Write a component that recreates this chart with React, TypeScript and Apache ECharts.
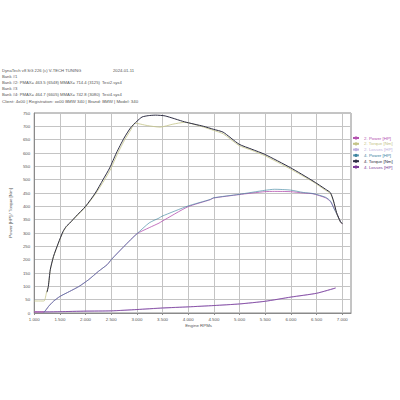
import React, { useEffect, useRef } from "react";
import * as echarts from "echarts";

// ---- data ----
const seriesNames = [
  "2. Power [HP]",
  "2. Torque [Nm]",
  "2. Losses [HP]",
  "4. Power [HP]",
  "4. Torque [Nm]",
  "4. Losses [HP]",
];
const seriesColors = ["#b452b0", "#c4c488", "#c0b0e0", "#3d849f", "#2e2e44", "#7a3a98"];

const t4Rpm = [1250, 1275, 1312, 1375, 1469, 1562, 1625, 1690, 1810, 2000, 2190, 2340, 2470, 2600, 2750, 2875, 3000, 3100, 3220, 3360, 3550, 3925, 4300, 4490, 4680, 4990, 5240, 5490, 5990, 6430, 6675, 6770, 6830, 6890, 6960, 7000];
const t4Val = [78, 100, 162, 212, 262, 306, 325, 337, 362, 400, 450, 500, 544, 600, 656, 694, 719, 735, 740, 742, 739, 717, 700, 689, 678, 633, 614, 595, 545, 495, 464, 451, 420, 376, 344, 335];

const t2Rpm = [1000, 1190, 1240, 1275, 1312, 1375, 1469, 1562, 1625, 1690, 1810, 2000, 2190, 2360, 2490, 2620, 2770, 2890, 2960, 3200, 3450, 3700, 3925, 4300, 4490, 4680, 4990, 5240, 5490, 5990, 6430, 6675, 6770, 6830, 6890, 6960, 7000];
const t2Val = [45, 45, 78, 100, 160, 210, 260, 304, 323, 336, 360, 398, 446, 496, 540, 596, 652, 690, 712, 703, 697, 708, 715, 697, 685, 672, 628, 610, 590, 540, 492, 460, 448, 418, 374, 343, 334];

const p4Rpm = [1190, 1280, 1375, 1500, 1690, 1875, 2060, 2250, 2425, 2500, 2750, 3000, 3240, 3430, 3490, 3990, 4430, 4490, 4990, 5490, 5680, 5990, 6240, 6430, 6675, 6770, 6830, 6890, 6960, 7000];
const p4Val = [2, 25, 44, 62, 81, 100, 125, 156, 182, 200, 250, 297, 338, 356, 363, 401, 426, 432, 445, 460, 464, 461, 452, 448, 434, 420, 395, 372, 344, 335];

const p2Rpm = [1000, 1190, 1280, 1375, 1500, 1690, 1875, 2060, 2250, 2425, 2500, 2750, 3000, 3240, 3430, 3490, 3990, 4430, 4490, 4990, 5490, 5680, 5990, 6240, 6430, 6675, 6770, 6830, 6890, 6960, 7000];
const p2Val = [4, 4, 25, 44, 62, 81, 100, 125, 156, 182, 200, 250, 297, 320, 337, 344, 398, 425, 431, 444, 455, 456, 455, 450, 447, 432, 418, 397, 374, 344, 333];

const lossRpm = [1000, 1250, 1500, 2000, 2500, 3000, 3500, 4000, 4500, 5000, 5500, 6000, 6500, 6870];
const l4Val = [4, 4, 5, 7, 8, 13, 19, 23, 28, 34, 44, 60, 74, 94];
const l2Val = [5, 5, 5, 7, 8, 13, 18, 23, 28, 34, 44, 59, 74, 93];

const yTicks = [0, 50, 100, 150, 200, 250, 300, 350, 400, 450, 500, 550, 600, 650, 700, 750];

const headerLines = [
  "DynaTech v8 SG 226 (c) V-TECH TUNING",
  "Bank #1",
  "Bank #2: PMAX= 463.5 (6548)",
  "Bank #3",
  "Bank #4: PMAX= 464.7 (6605)",
  "Client: 4x00 | Registration: xx00 BMW 340 | Brand: BMW | Model: 340",
];
const headerDate = "2024-01-11";
const mmaxTexts = ["MMAX= 714.4 (3125)", "MMAX= 742.8 (3080)"];
const fileTexts = ["Test2.syx4", "Test4.syx4"];

function pairs(r: number[], v: number[]) {
  return r.map((x, i) => [x, v[i]]);
}

export default function App() {
  const ref = useRef<HTMLDivElement>(null);
  useEffect(() => {
    if (!ref.current) return;
    const chart = echarts.init(ref.current, null, { renderer: "svg" });
    const font = "Liberation Sans";
    const hs = 4.2;
    const hColor = "#555";
    const lineYs = [70, 76, 82, 88, 94.5, 101];
    const graphic: any[] = headerLines.map((t, i) => ({
      type: "text",
      x: 2,
      y: lineYs[i],
      style: { text: t, fontSize: i === 5 ? 4.4 : hs, fontFamily: font, fill: hColor, verticalAlign: "middle" },
    }));
    graphic.push({ type: "text", x: 113, y: lineYs[0], style: { text: headerDate, fontSize: hs, fontFamily: font, fill: hColor, verticalAlign: "middle" } });
    [2, 4].forEach((li, k) => {
      graphic.push({ type: "text", x: 60, y: lineYs[li], style: { text: mmaxTexts[k], fontSize: hs, fontFamily: font, fill: hColor, verticalAlign: "middle" } });
      graphic.push({ type: "text", x: 102, y: lineYs[li], style: { text: fileTexts[k], fontSize: hs, fontFamily: font, fill: hColor, verticalAlign: "middle" } });
    });

    const dataMap: Record<string, number[][]> = {
      "2. Power [HP]": pairs(p2Rpm, p2Val),
      "2. Torque [Nm]": pairs(t2Rpm, t2Val),
      "2. Losses [HP]": pairs(lossRpm, l2Val),
      "4. Power [HP]": pairs(p4Rpm, p4Val),
      "4. Torque [Nm]": pairs(t4Rpm, t4Val),
      "4. Losses [HP]": pairs(lossRpm, l4Val),
    };
    const drawOrder = [2, 5, 0, 3, 1, 4];
    const series = drawOrder.map((i) => ({
      name: seriesNames[i],
      type: "line",
      data: dataMap[seriesNames[i]],
      symbol: "none",
      smooth: 0.2,
      lineStyle: { color: seriesColors[i], width: i === 4 ? 1 : 0.8, opacity: i === 3 ? 0.8 : 1 },
      itemStyle: { color: seriesColors[i] },
      z: 3,
    }));

    chart.setOption({
      animation: false,
      backgroundColor: "#ffffff",
      textStyle: { fontFamily: font },
      grid: { left: 24, right: 49, top: 113, bottom: 87, show: true, borderColor: "#8a8a8a", borderWidth: 1, backgroundColor: "transparent" },
      legend: {
        orient: "vertical",
        left: 347,
        top: 131,
        itemWidth: 6,
        itemHeight: 4,
        itemGap: 1.8,
        textStyle: { fontSize: 4.4, fontFamily: font },
        data: seriesNames.map((n, i) => ({ name: n, textStyle: { color: seriesColors[i] } })),
      },
      xAxis: {
        type: "value",
        min: 1000,
        max: 7170,
        interval: 500,
        name: "Engine RPMs",
        nameLocation: "middle",
        nameGap: 10,
        nameTextStyle: { fontSize: 4.4, color: "#555", fontFamily: font, padding: [0, 0, 0, 12] },
        axisLine: { show: true, lineStyle: { color: "#8a8a8a" } },
        axisTick: { show: true, length: 2, lineStyle: { color: "#8a8a8a" } },
        axisLabel: {
          fontSize: 4.4,
          color: "#555",
          margin: 4,
          showMaxLabel: false,
          formatter: (v: number) => (v % 500 === 0 ? (v / 1000).toFixed(3) : ""),
        },
        splitLine: { show: true, lineStyle: { color: "#c4c4c4", width: 1 } },
      },
      yAxis: {
        type: "value",
        min: yTicks[0],
        max: yTicks[yTicks.length - 1],
        interval: 50,
        name: "Power [HP] / Torque [Nm]",
        nameLocation: "middle",
        nameGap: 13,
        nameTextStyle: { fontSize: 4.4, color: "#555", fontFamily: font },
        axisLine: { show: true, lineStyle: { color: "#8a8a8a" } },
        axisTick: { show: false },
        axisLabel: { fontSize: 4.4, color: "#555", margin: 4 },
        splitLine: { show: true, lineStyle: { color: "#c4c4c4", width: 1 } },
      },
      graphic,
      series,
    });
    return () => chart.dispose();
  }, []);
  return <div ref={ref} style={{ width: 400, height: 400, position: "absolute", left: 0, top: 0 }} />;
}
